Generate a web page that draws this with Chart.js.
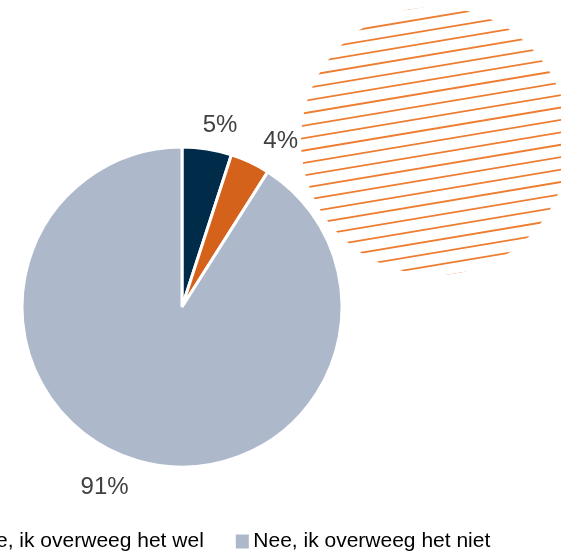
<!DOCTYPE html>
<html>
<head>
<meta charset="utf-8">
<script src="https://cdn.jsdelivr.net/npm/chart.js@4/dist/chart.umd.min.js"></script>
<style>
  html, body { margin: 0; padding: 0; background: #fff; overflow: hidden; }
  body { width: 561px; height: 556px; position: relative; }
  #pie { position: absolute; left: -152px; top: 0; }
</style>
</head>
<body>
<canvas id="pie" width="713" height="562"></canvas>
<script>
const categories = ['Ja', 'Nee, ik overweeg het wel', 'Nee, ik overweeg het niet'];
const percentages = [5, 4, 91];
const sliceColors = ['#002B49', '#D5621B', '#ADB9CA'];

// canvas sticks out on the left so the legend row starts off-screen
const SHIFT = 152;

// orange hatched disc in the top-right corner
const hatchDisc = {
    id: 'hatchDisc',
    beforeDatasetsDraw(chart) {
        const ctx = chart.ctx;
        const cx = 435 + SHIFT, cy = 141, r = 134;
        ctx.save();
        ctx.beginPath();
        ctx.arc(cx, cy, r, 0, Math.PI * 2);
        ctx.clip();
        ctx.translate(cx, cy);
        ctx.rotate(-9.5 * Math.PI / 180);
        ctx.strokeStyle = '#ED7D31';
        ctx.lineWidth = 1.8;
        for (let k = -11; k <= 11; k++) {
            ctx.beginPath();
            ctx.moveTo(-r - 5, k * 12.25);
            ctx.lineTo(r + 5, k * 12.25);
            ctx.stroke();
        }
        ctx.restore();
    }
};

// percentage labels just outside each slice, with a small hand nudge each
const labelNudge = [[-7, 0], [6, 1], [-4, 0]];
const sliceLabels = {
    id: 'sliceLabels',
    afterDatasetsDraw(chart) {
        const ctx = chart.ctx;
        const size = 24;
        ctx.save();
        ctx.font = size + 'px "Liberation Sans", Arial, sans-serif';
        ctx.fillStyle = '#404040';
        ctx.textBaseline = 'alphabetic';
        chart.getDatasetMeta(0).data.forEach((arc, i) => {
            const p = arc.getProps(['x', 'y', 'startAngle', 'endAngle', 'outerRadius'], true);
            const mid = (p.startAngle + p.endAngle) / 2;
            const dx = Math.cos(mid), dy = Math.sin(mid);
            const ax = p.x + dx * (p.outerRadius + 17) + labelNudge[i][0];
            const ay = p.y + dy * (p.outerRadius + 17) + labelNudge[i][1];
            ctx.textAlign = dx >= 0 ? 'left' : 'right';
            ctx.fillText(percentages[i] + '%', ax, dy < 0 ? ay : ay + size * 0.716);
        });
        ctx.restore();
    }
};

new Chart(document.getElementById('pie'), {
    type: 'pie',
    data: {
        labels: categories,
        datasets: [{
            data: percentages,
            backgroundColor: sliceColors,
            borderColor: '#ffffff',
            borderWidth: 3,
            radius: 160
        }]
    },
    options: {
        responsive: false,
        animation: false,
        events: [],
        layout: { padding: { top: 121, left: 0, right: 0, bottom: 0 } },
        plugins: {
            tooltip: { enabled: false },
            // empty title on the right just narrows the pie area
            title: {
                display: true,
                position: 'right',
                text: '',
                font: { size: 1, lineHeight: 1 },
                padding: { top: 22, bottom: 22 }
            },
            legend: {
                position: 'bottom',
                align: 'start',
                labels: {
                    color: '#595959',
                    font: { family: '"Liberation Sans", Arial, sans-serif', size: 21 },
                    boxWidth: 1,
                    boxHeight: 2,
                    padding: 38,
                    generateLabels: (chart) => categories.map((text, i) => ({
                        text,
                        index: i,
                        fillStyle: sliceColors[i],
                        strokeStyle: sliceColors[i],
                        lineWidth: 12,
                        lineJoin: 'miter',
                        hidden: false
                    }))
                }
            }
        }
    },
    plugins: [hatchDisc, sliceLabels]
});
</script>
</body>
</html>
